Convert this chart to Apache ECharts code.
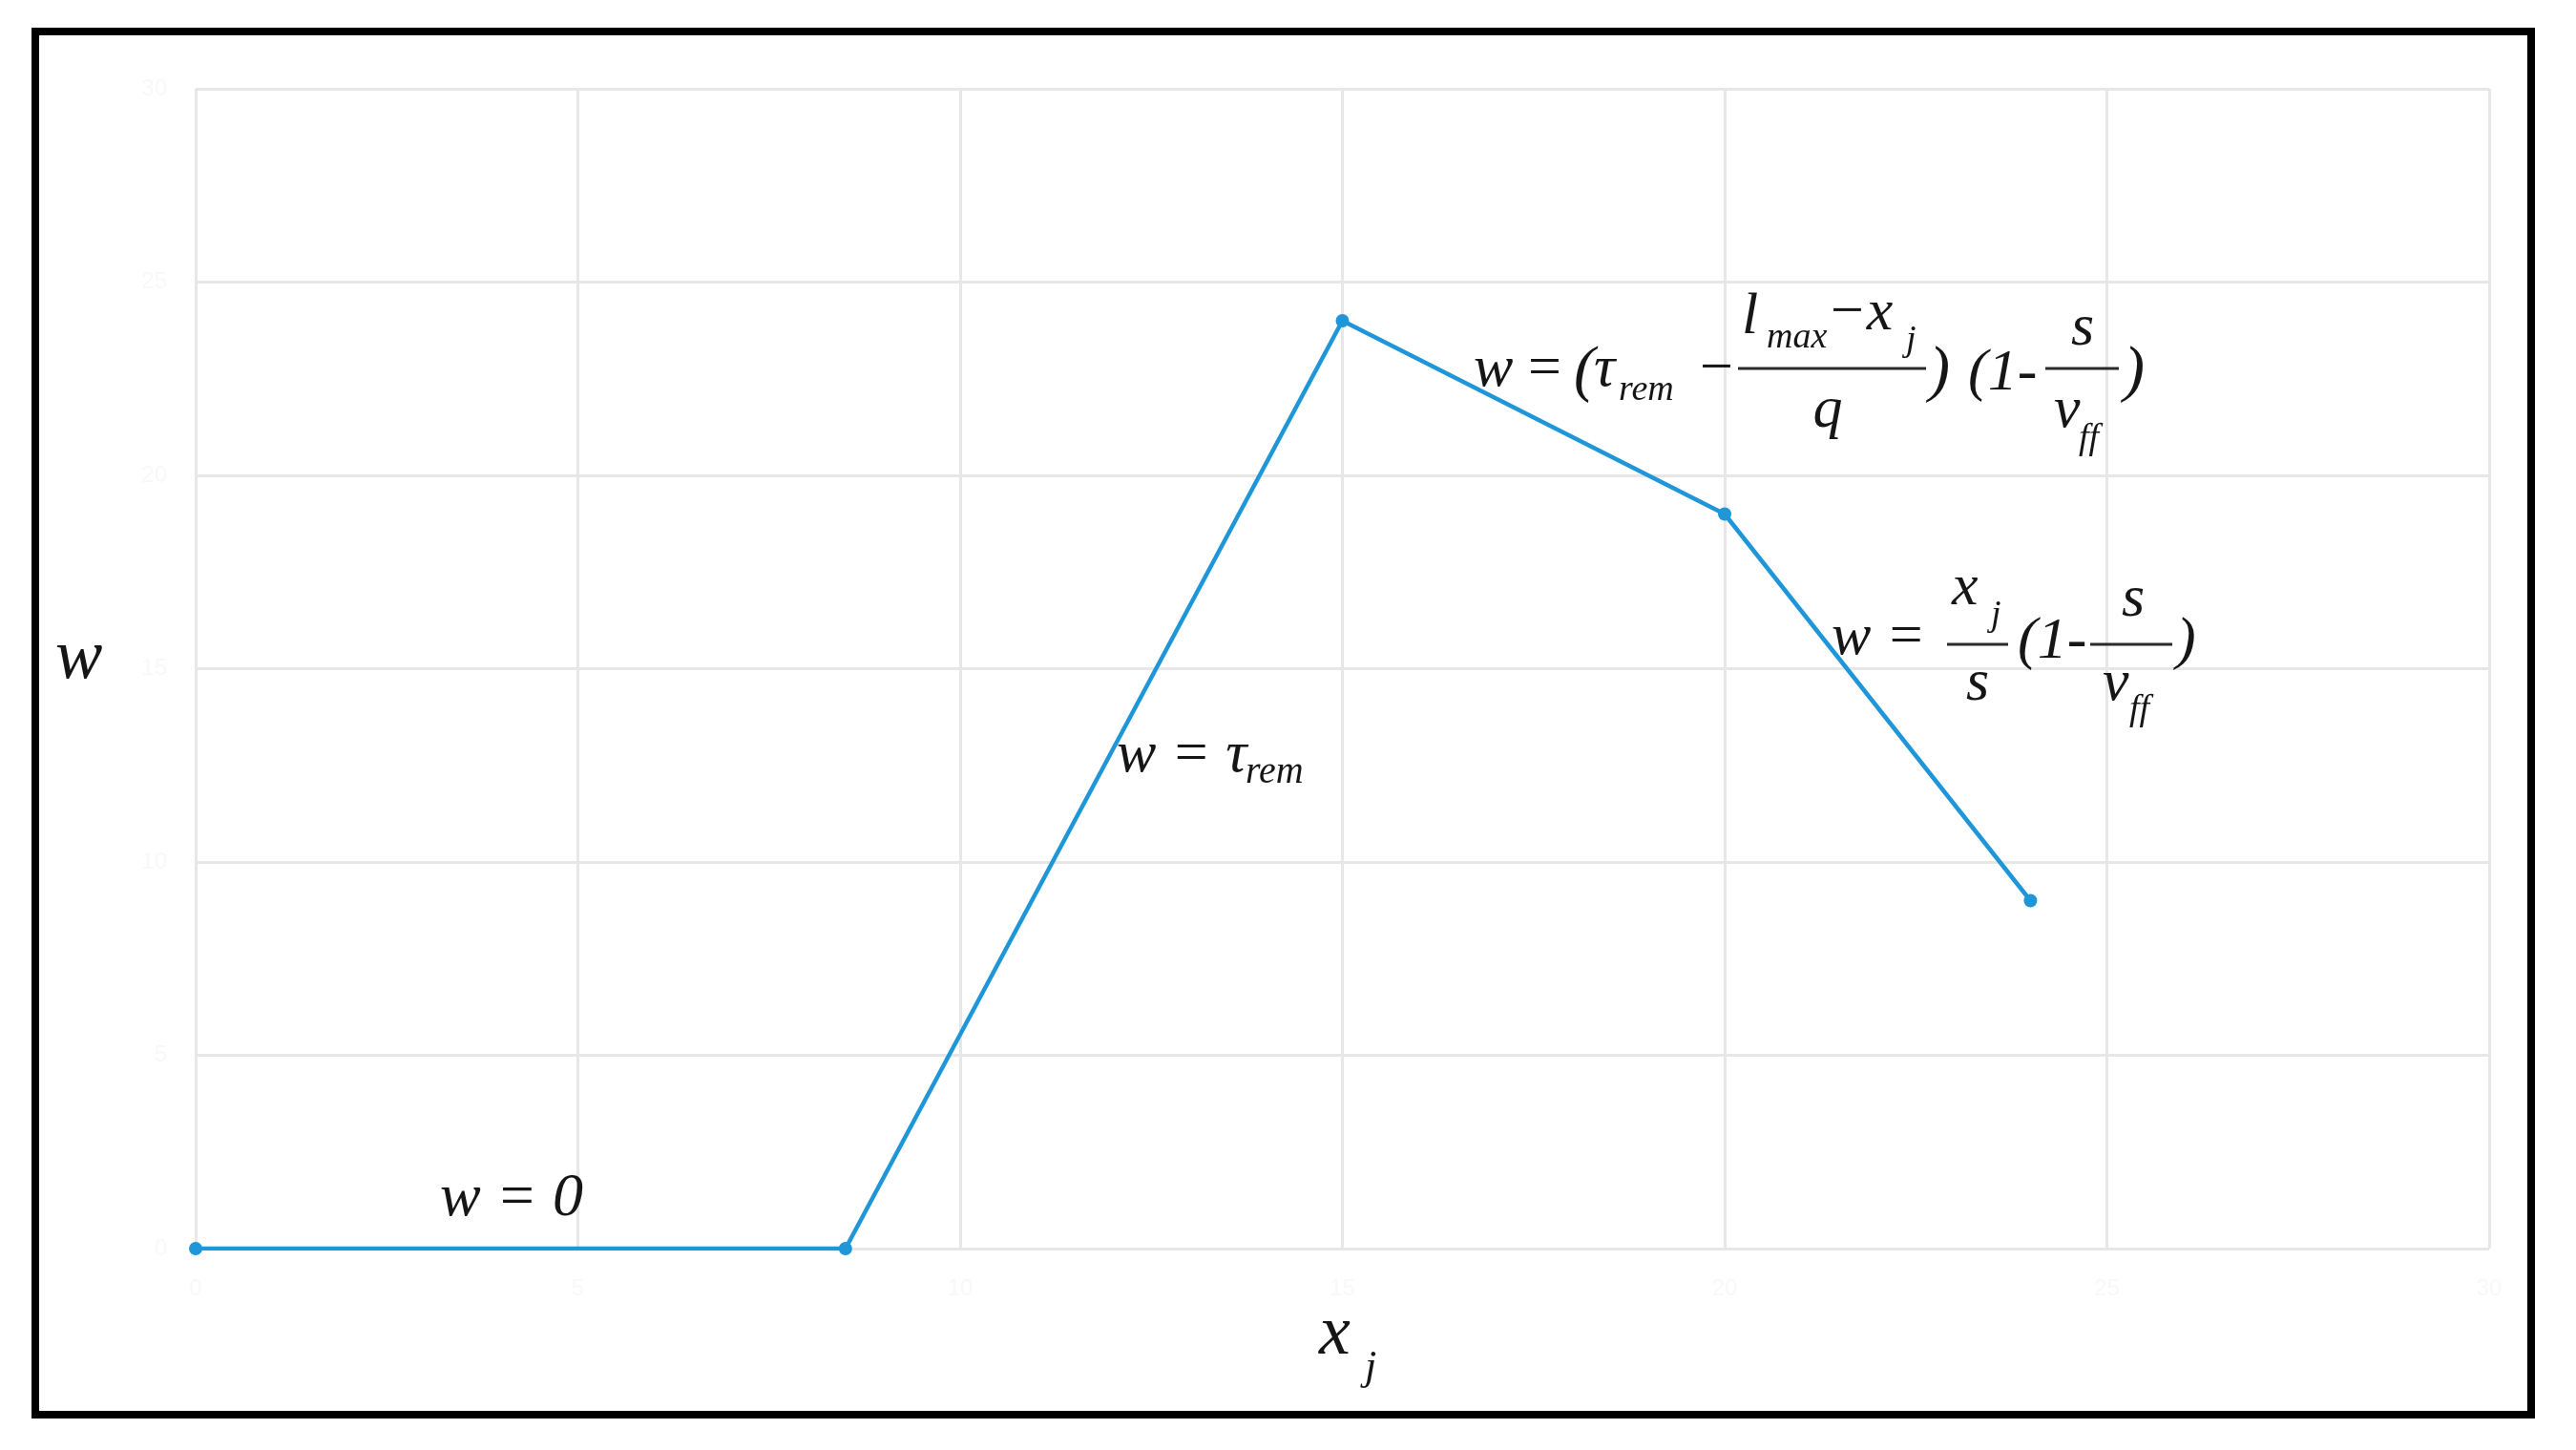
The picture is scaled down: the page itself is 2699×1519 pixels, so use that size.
<!DOCTYPE html>
<html>
<head>
<meta charset="utf-8">
<script src="https://cdn.jsdelivr.net/npm/echarts@6/dist/echarts.min.js"></script>
<style>
  html, body { margin: 0; padding: 0; background: #fff; }
  #chart { width: 2699px; height: 1519px; }
</style>
</head>
<body>
<div id="chart"></div>
<script>
// data
const xValues = [0, 1.7, 3, 4, 4.8];
const wValues = [0, 0, 4.8, 3.8, 1.8];
const xTickLabels = ['0', '5', '10', '15', '20', '25', '30'];
const yTickLabels = ['0', '5', '10', '15', '20', '25', '30'];

const FONT = '"Liberation Serif", "DejaVu Serif", serif';
const INK = '#161616';
const BLUE = '#1f96d8';

// text piece, placed by its baseline
function t(x, base, str, size, align) {
  return {
    type: 'text', x: x, y: base - 0.33 * size, z: 10,
    style: {
      text: str, fontFamily: FONT, fontStyle: 'italic', fontSize: size,
      fill: INK, verticalAlign: 'middle', align: align || 'left'
    }
  };
}
function bar(x1, x2, y) {
  return {
    type: 'line', z: 10,
    shape: {x1: x1, y1: y, x2: x2, y2: y},
    style: {stroke: '#2a2a2a', lineWidth: 3}
  };
}

const formulas = [
  // w = (tau_rem - (l_max - x_j)/q) (1 - s/v_ff)
  t(1544, 408, 'w', 62), t(1597, 408, '=', 62), t(1649, 412, '(', 66),
  t(1670, 408, 'τ', 62), t(1696, 422, 'rem', 38), t(1777, 408, '−', 62),
  t(1825, 353, 'l', 62), t(1851, 367, 'max', 38), t(1914, 349, '−x', 62),
  t(1997, 370, 'j', 38), bar(1821, 2018, 386), t(1915, 451, 'q', 62, 'center'),
  t(2021, 412, ')', 66), t(2062, 412, '(1-', 62),
  t(2182, 365, 's', 62, 'center'), bar(2143, 2220, 386),
  t(2152, 451, 'v', 62), t(2178, 473, 'ff', 38), t(2225, 412, ')', 66),

  // w = x_j/s (1 - s/v_ff)
  t(1919, 689, 'w =', 62),
  t(2045, 637, 'x', 62), t(2086, 658, 'j', 38), bar(2040, 2104, 675),
  t(2072, 737, 's', 62, 'center'),
  t(2114, 693, '(1-', 62),
  t(2235, 649, 's', 62, 'center'), bar(2190, 2276, 675),
  t(2203, 737, 'v', 62), t(2231, 757, 'ff', 38), t(2280, 693, ')', 62),

  // w = tau_rem
  t(1170, 812, 'w = τ', 62), t(1305, 823, 'rem', 40),

  // w = 0
  t(461, 1277, 'w = 0', 64),

  // axis names
  t(58, 715, 'w', 74),
  t(1382, 1423, 'x', 74), t(1430, 1448, 'j', 44),

  // black frame
  {
    type: 'rect', z: 20,
    shape: {x: 37, y: 33, width: 2615, height: 1449},
    style: {fill: 'none', stroke: '#000', lineWidth: 8}
  }
];

const chart = echarts.init(document.getElementById('chart'));
chart.setOption({
  animation: false,
  backgroundColor: '#fff',
  grid: {left: 205, right: 91, top: 93, bottom: 211},
  xAxis: {
    type: 'value', min: 0, max: 6, interval: 1,
    axisLine: {show: false},
    axisTick: {show: false},
    axisLabel: {
      color: '#f8f8f8', fontSize: 24, margin: 30,
      formatter: (v) => xTickLabels[Math.round(v)]
    },
    splitLine: {show: true, lineStyle: {color: '#e7e7e7', width: 3}}
  },
  yAxis: {
    type: 'value', min: 0, max: 6, interval: 1,
    axisLine: {show: false},
    axisTick: {show: false},
    axisLabel: {
      color: '#f8f8f8', fontSize: 24, margin: 30,
      formatter: (v) => yTickLabels[Math.round(v)]
    },
    splitLine: {show: true, lineStyle: {color: '#e7e7e7', width: 3}}
  },
  series: [{
    type: 'line',
    data: xValues.map((x, i) => [x, wValues[i]]),
    symbol: 'circle',
    symbolSize: 14,
    showAllSymbol: true,
    lineStyle: {color: BLUE, width: 4.5},
    itemStyle: {color: BLUE}
  }],
  graphic: formulas
});
</script>
</body>
</html>
